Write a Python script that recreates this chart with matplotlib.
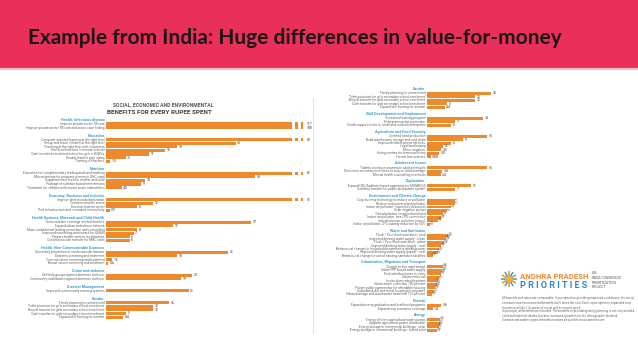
import matplotlib
matplotlib.use("Agg")
import matplotlib.pyplot as plt
from matplotlib import font_manager as fm
from matplotlib.patches import Rectangle, Circle
import numpy as np

# ---------------- data ----------------
TITLE = "Example from India: Huge differences in value-for-money"
CHART_SUPTITLE = "SOCIAL, ECONOMIC AND ENVIRONMENTAL"
CHART_TITLE = "BENEFITS FOR EVERY RUPEE SPENT"

infectious_labels = ["Improve private sector TB care",
                     "Improve private sector TB care and active case finding"]
infectious_values = ["117", "108"]

education_labels = ["Computer assisted learning at the right level",
                    "Group and teach children at the right level",
                    "Teaching at the right level with volunteers",
                    "Hire local teachers in remote schools",
                    "Cash incentives to attend school for girls in KGBVs",
                    "Double teacher pay/ salary",
                    "Training of teachers"]
education_values = ["62", "33", "18", "15", "11", "5", "1.0"]

nutrition_labels = ["Education for complementary feeding and hand washing",
                    "Micronutrients for pregnant women in ANC visits",
                    "Supplementary food for mother and child",
                    "Package of nutrition based interventions",
                    "Treatment for children with severe acute malnutrition"]
nutrition_values = ["61", "38", "10", "9", "4.0"]

economy_labels = ["Improve land records digitization",
                  "Create economic zones",
                  "Develop tourism sector",
                  "Port infrastructure and increased connectivity"]
economy_values = ["51", "12", "8", "0.9"]

health_sys_labels = ["Immunization coverage in tribal districts",
                     "Expand urban ambulance network",
                     "Mass media breastfeeding promotion and counselling",
                     "Improved monitoring and reward for ASHAs",
                     "Prepare health centres for deliveries",
                     "Conditional cash transfer for MNC visits"]
health_sys_values = ["37", "17", "8", "7", "6", "6"]

ncd_labels = ["Secondary prevention of cardiovascular disease",
              "Diabetes screening and treatment",
              "Cervical cancer screening and treatment",
              "Breast cancer screening and treatment"]
ncd_values = ["31", "18", "1.6", "0.6"]

crime_labels = ["Self-help groups against domestic violence",
                "Community mobilisation against domestic violence"]
crime_values = ["22", "19"]

disaster_labels = ["Improved cyclone early warning systems"]
disaster_values = ["21"]

gender_labels = ["Family planning for unmet need",
                 "Toilet provision for girls secondary school enrolment",
                 "Bicycle transfer for girls secondary school enrolment",
                 "Cash transfer for girls secondary school enrolment",
                 "Expand skill training for women"]
gender_values = ["16", "12", "12", "5", "4.4"]

skill_labels = ["Vocational training program",
                "Entrepreneurship promotion",
                "Credit support to micro, small and medium enterprises"]
skill_values = ["14", "7", "6"]

agri_labels = ["Certified seed production",
               "Build warehouses, storage and cold chain",
               "Improved mobile phone services",
               "Legal land leasing",
               "Micro irrigation",
               "Hiring centres for farm machinery",
               "Farmer loan waivers"]
agri_values = ["15", "9", "6", "4", "3.6", "3.0", "0.88"]

adolescent_labels = ["Tablets to reduce anaemia in adolescent girls",
                     "Direct non-monetary incentives to reduce child marriage",
                     "Mental health counselling in schools"]
adolescent_values = ["15", "3.8", "3.4"]

digital_labels = ["Expand UID (Aadhaar) based payments for MGNREGA",
                  "Cashless transfer for public distribution system"]
digital_values = ["11", "7"]

environment_labels = ["Crop burning technology to reduce air pollution",
                      "Reduce coal power plant pollution",
                      "Indoor air pollution: improved cookstoves",
                      "Solar irrigation pumps",
                      "Tree plantation on agricultural land",
                      "Indoor air pollution: free LPG connection",
                      "Industrial water pollution control",
                      "Indoor air pollution: LPG subsidy reduction by 50%"]
environment_values = ["7", "7", "6", "5", "4", "3.6", "2.8", "0.7"]

water_labels = ["Flush / Pour flush sanitation - rural",
                "Improved drinking water supply - urban",
                "Flush / Pour flush sanitation - urban",
                "Improved drinking water supply - rural",
                "Behavioural change for household treatment of drinking water",
                "Improved drinking water supply (piped) - rural",
                "Behavioural change for use of existing sanitation facilities"]
water_values = ["5.2", "4.8", "4.3", "3.6", "3.1", "2.7", "1.4"]

urban_labels = ["Change to bus rapid transit",
                "Urban PPP based water supply",
                "Dedicated bus lanes in cities",
                "Urban metro rail",
                "In situ slum redevelopment",
                "Urban waste collection 100 percent",
                "Private public partnership for affordable housing",
                "Subsidised skill and rental housing for migrants",
                "Urban drainage and wastewater treatment 100 percent"]
urban_values = ["4.0", "3.8", "3.5", "3.1", "2.7", "2.4", "2.0", "1.7", "1.3"]

poverty_labels = ["Expand poverty graduation and livelihood programs",
                  "Expand crop insurance coverage"]
poverty_values = ["3.6", "1.4"]

energy_labels = ["Energy efficient agricultural water pumps",
                 "Upgrade agricultural power distribution",
                 "Energy storage in commercial buildings - solar",
                 "Energy storage in commercial buildings - hybrid solar"]
energy_values = ["3.3", "3.2", "2.9", "2.6"]

left_sections = [
    ("Health: Infectious disease", infectious_labels, infectious_values),
    ("Education", education_labels, education_values),
    ("Nutrition", nutrition_labels, nutrition_values),
    ("Economy, Business and Industry", economy_labels, economy_values),
    ("Health Systems, Maternal and Child Health", health_sys_labels, health_sys_values),
    ("Health: Non-Communicable Diseases", ncd_labels, ncd_values),
    ("Crime and violence", crime_labels, crime_values),
    ("Disaster Management", disaster_labels, disaster_values),
    ("Gender", gender_labels, gender_values),
]
right_sections = [
    ("Gender", gender_labels, gender_values),
    ("Skill Development and Employment", skill_labels, skill_values),
    ("Agriculture and Food Security", agri_labels, agri_values),
    ("Adolescent Issues", adolescent_labels, adolescent_values),
    ("Digitization", digital_labels, digital_values),
    ("Environment and Climate Change", environment_labels, environment_values),
    ("Water and Sanitation", water_labels, water_values),
    ("Urbanization, Migration and Transport", urban_labels, urban_values),
    ("Poverty", poverty_labels, poverty_values),
    ("Energy", energy_labels, energy_values),
]
rotated_sections = {"Environment and Climate Change", "Water and Sanitation",
                    "Urbanization, Migration and Transport", "Energy"}

logo_line1 = "ANDHRA PRADESH"
logo_line2 = "P R I O R I T I E S"
logo_side = "AN\nINDIA CONSENSUS\nPRIORITIZATION\nPROJECT"
notes = [
    "All benefits and ratios are comparable. If you spend on providing improved cookstoves, the social,\n"
    "economic and environmental benefits are 6 times the cost. Each rupee spent on expanded crop\n"
    "insurance will do 1.4 rupees of social and economic good.",
    "In principle, all benefits are included. The benefits of providing family planning is not only avoided\n"
    "child and maternal deaths, but also increased growth from the demographic dividend.",
    "Summaries and academic papers behind these numbers are available on www.apriorities.com",
]

# ---------------- style ----------------
W, H = 638, 359
RED = "#E8305A"
ORANGE = "#EE8A2E"
BLUE = "#3A9AD0"
GREY = "#666666"

names = {f.name for f in fm.fontManager.ttflist}
NARROW = "Liberation Sans Narrow" if "Liberation Sans Narrow" in names else "Roboto"
TITLE_FONT = "Lato" if "Lato" in names else "DejaVu Sans"

fig = plt.figure(figsize=(W / 100, H / 100), dpi=100)
fig.patch.set_facecolor("white")


def fx(px):
    return px / W


def fy(py):
    return 1 - py / H


def fit(t, width_px):
    r = fig.canvas.get_renderer()
    bb = t.get_window_extent(renderer=r)
    t.set_fontsize(t.get_fontsize() * width_px / bb.width)


# header band
fig.patches.append(Rectangle((0, fy(68)), 1, 68 / H, transform=fig.transFigure,
                             facecolor=RED, edgecolor="none", zorder=0))
fig.patches.append(Rectangle((0, fy(70)), 1, 2 / H, transform=fig.transFigure,
                             facecolor="#F6B8C4", edgecolor="none", zorder=0))
t = fig.text(fx(28), fy(44), TITLE, fontsize=15, fontweight="bold", family=TITLE_FONT,
             color="#1E1517", ha="left", va="baseline")
fit(t, 535)

# chart titles
t = fig.text(fx(113), fy(106), CHART_SUPTITLE, fontsize=3, fontweight="bold",
             family=NARROW, color="#555555", ha="left", va="baseline")
fit(t, 96)
t = fig.text(fx(107), fy(114), CHART_TITLE, fontsize=5, fontweight="bold",
             family=NARROW, color="#444444", ha="left", va="baseline")
fit(t, 108)

# divider
fig.add_artist(plt.Line2D([fx(313), fx(313)], [fy(98), fy(333)], color="#DDDDDD",
                          lw=0.6, transform=fig.transFigure))


def draw_panel(box, x0, sx, y0, sy, sections, g, h, cap=None):
    left, top, right, bottom = box
    ax = fig.add_axes([fx(left), fy(bottom), (right - left) / W, (bottom - top) / H])
    ax.set_xlim((left - x0) / sx, (right - x0) / sx)
    ax.set_ylim((bottom - y0) / sy, (top - y0) / sy)
    ax.axis("off")
    pos = 0.0
    pad = 1.6 / sx
    bh = 0.86
    for si, (name, labels, values) in enumerate(sections):
        if si > 0:
            pos += h
        ax.text(-pad, pos, name, ha="right", va="center", fontsize=2.7,
                fontweight="bold", color=BLUE, family=NARROW, clip_on=False)
        pos += g
        ys, vals = [], []
        for i, (lab, val) in enumerate(zip(labels, values)):
            if i > 0:
                pos += 1
            ys.append(pos)
            vals.append(float(val))
            ax.text(-pad, pos, lab, ha="right", va="center", fontsize=2.3,
                    color=GREY, family=NARROW, clip_on=False)
        vals = np.array(vals)
        lengths = vals if cap is None else np.minimum(vals, cap)
        ax.barh(ys, lengths, height=bh, color=ORANGE, edgecolor="none")
        for y, v, L, s in zip(ys, vals, lengths, values):
            if cap is not None and v > cap:
                d = 3.0 / sx
                ax.barh([y], [d * 0.9], left=cap + d, height=bh, color=ORANGE, edgecolor="none")
                ax.barh([y], [d * 0.9], left=cap + 2.9 * d, height=bh, color=ORANGE, edgecolor="none")
                ax.text(cap + 4.9 * d, y, s, ha="left", va="center", fontsize=2.5,
                        color="#3A3A3A", family=NARROW, clip_on=False)
            elif name in rotated_sections:
                ax.text(L + pad, y, s, ha="left", va="center", fontsize=2.5, rotation=60,
                        rotation_mode="anchor", color="#3A3A3A", family=NARROW, clip_on=False)
            else:
                ax.text(L + pad, y, s, ha="left", va="center", fontsize=2.5,
                        color="#3A3A3A", family=NARROW, clip_on=False)
    return ax


draw_panel((106, 95, 312, 335), 106, 3.93, 120, 3.6, left_sections, 1.11, 2.22, cap=47.3)
draw_panel((427, 80, 520, 338), 427, 4.0, 89, 3.45, right_sections, 1.3, 1.88)

# logo
sun = fig.add_axes([fx(501), fy(287), 16 / W, 16 / H])
sun.set_xlim(-1, 1)
sun.set_ylim(-1, 1)
sun.axis("off")
ang = np.linspace(0, 2 * np.pi, 12, endpoint=False)
for k, a in enumerate(ang):
    sun.plot([0.45 * np.cos(a), 0.95 * np.cos(a)], [0.45 * np.sin(a), 0.95 * np.sin(a)],
             color=ORANGE if k % 2 else BLUE, lw=1.1, solid_capstyle="round")
sun.add_patch(Circle((0, 0), 0.4, color="#F5B335"))

t = fig.text(fx(520), fy(279), logo_line1, fontsize=6, fontweight="bold", family=NARROW,
             color=ORANGE, ha="left", va="baseline")
fit(t, 68)
t = fig.text(fx(520), fy(288), logo_line2, fontsize=6, fontweight="bold", family=NARROW,
             color="#2E88C6", ha="left", va="baseline")
fit(t, 68)
fig.text(fx(592), fy(271), logo_side, fontsize=2.4, family=NARROW, color="#555555",
         ha="left", va="top", linespacing=1.25)

ny = [296, 309, 318.5]
for yy, note in zip(ny, notes):
    t = fig.text(fx(502), fy(yy), note, fontsize=1.8, family=NARROW, color="#666666",
                 ha="left", va="top", linespacing=1.3)
    if "\n" in note:
        fit(t, 128)

fig.savefig("out.png", dpi=100, facecolor="white")
